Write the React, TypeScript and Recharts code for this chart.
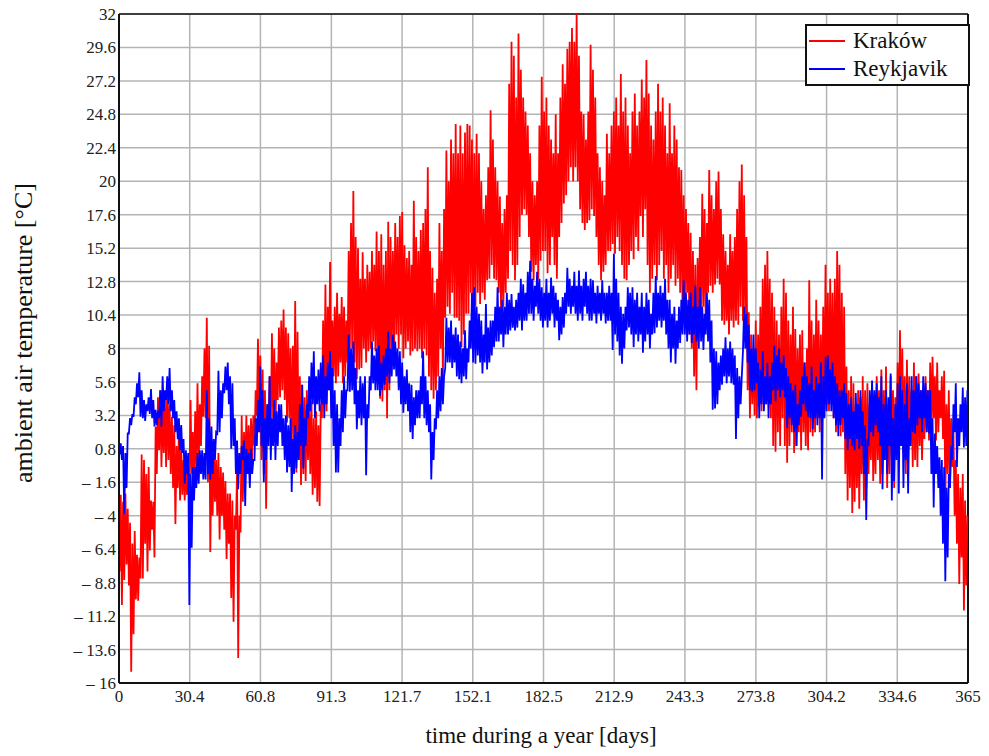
import { LineChart, Line, XAxis, YAxis, CartesianGrid, ReferenceLine } from "recharts"

const SERIF = "'Liberation Serif', 'DejaVu Serif', serif"

const X_TICKS = [0, 30.4, 60.8, 91.3, 121.7, 152.1, 182.5, 212.9, 243.3, 273.8, 304.2, 334.6, 365]
const Y_TICKS = [-16, -13.6, -11.2, -8.8, -6.4, -4, -1.6, 0.8, 3.2, 5.6, 8, 10.4, 12.8, 15.2, 17.6, 20, 22.4, 24.8, 27.2, 29.6, 32]

// daily minimum / maximum, day 0..364
const KRAKOW_LO = [
  -8, -10.4, -8.6, -7.5, -9, -15.2, -12.5, -10, -10.1, -8.5,
  -8.5, -6, -8, -6.5, -5, -7, -1, 0.7, -0.5, 0.5,
  -0.5, 0, -1, -2, -4.6, -2, -2.9, -2.5, -2.9, -2.5,
  -2, -1, -2, -0.5, -0.5, 1, 3.1, 3, -1.6, -6.6,
  -4, -3, -4, -5.7, -4, -5, -7.1, -6, -9.9, -11.6,
  -5, -14.2, -5.2, -3, -1.4, -1, -1.4, 0, 1, 3.2,
  2, 0, -1, -3.5, 1.9, 2, 3, 1.9, 4.3, 4.5,
  5, 4.3, 2.7, 3, 0.6, 1, -0.9, 0, -1.8, -1,
  -1.5, 0, -1, -2.5, -2, -3, -3.3, 3, 4, 3.5,
  5, 5.4, 6, 5.5, 6, 7, 5.5, 6, 7, 8,
  8, 7, 5.8, 6.5, 6.6, 8, 7, 7.8, 8, 8.5,
  7.8, 6, 4.4, 4.2, 5, 3, 5, 8, 7.8, 9,
  8, 9, 7.3, 8, 8.5, 7.5, 7.8, 8, 7.8, 8,
  7.3, 8, 7.5, 6, 5, 4.4, 5, 6, 8, 5.5,
  10.2, 11, 10.5, 12, 10.2, 10.2, 10, 8.1, 9, 10.5,
  10.5, 12, 10.5, 11, 12, 11.2, 12, 11.5, 12.9, 13,
  14, 13, 12.9, 12, 10.5, 11, 12, 13, 15, 14,
  12.9, 14, 16, 17.6, 18, 17.6, 16, 13.5, 12.9, 14,
  13, 14.3, 15, 15, 13.4, 14, 16, 14, 13, 16,
  17, 18.4, 19, 20, 21, 20, 21, 20, 18, 17,
  16.5, 17, 17.2, 18, 17.5, 16, 14, 12.9, 13.5, 14,
  15, 15, 15.5, 14.8, 16, 15, 14, 13, 12.9, 14,
  15, 14.4, 16, 15, 17.5, 16, 18, 14, 12, 13,
  14, 12.9, 14, 15, 13, 14, 12, 13, 14, 12.5,
  13, 12, 11, 10.8, 12, 9, 8, 6, 5, 9.6,
  10, 11, 10, 12, 12.5, 12, 12.6, 13, 12.6, 10,
  9.7, 10, 9, 10, 9.5, 10, 9.7, 11, 10, 9.7,
  5, 3, 4, 3.2, 3, 4, 3.5, 5, 4, 5,
  3, 1, 0.6, 2, 1, 3, 1, -0.2, 1, 2,
  0.5, 1, 2, 0.7, 2, 1, 0.7, 2, 1.7, 2,
  3, 2, 2.5, 3.1, 4, 3.5, 4, 3, 2, 4,
  1.7, 2, -1, -2.9, -2, -3.8, -3, -2, -3.5, -1,
  -2.9, -2, -1, 0, -1.5, -1, 0, -1.7, -1, 0,
  -2, -1, 0, -2, 0.7, 1, 2, 0.5, -1, 0,
  1, -0.5, 0, -0.5, 1, 0, 1.5, 2, 1.4, 2,
  3, 1.4, 2, 3, 1.5, -2.9, -1, -2, -0.5, -4,
  -6, -8.9, -7, -10.8, -9,
]

const KRAKOW_HI = [
  -2.5, -3, -2.4, -3.5, -4.5, -6, -5.1, -6.8, -7, 0.4,
  0, -1, -0.5, -2.9, -3, 2.4, 4.5, 5, 4.3, 4.3,
  5.5, 4, 3.1, 2.5, 1, 1.9, 1, 0, -0.5, 0,
  4.3, 2, 3.5, 5.5, 4, 6, 8, 10.2, 8.2, 1,
  0.8, 0, 0.5, -0.5, -0.9, -1.5, -2.4, -2.4, -2.9, -4,
  -0.9, -4, 3.2, 2, 3.2, 2.5, 3, 3.2, 5, 8.7,
  7.5, 6.5, 5, 4, 6, 9.1, 8, 7, 9.5, 10,
  10.8, 9.5, 9.1, 8, 8.2, 11.4, 9.2, 6, 5.4, 4.5,
  5, 4, 4.2, 3, 3.5, 2.5, 4, 10, 12.6, 11,
  14.2, 10, 11, 12, 10.5, 11.7, 11, 10, 15, 17,
  19.3, 16, 15.2, 13, 14.9, 13, 14, 13.5, 15, 14,
  16.4, 15, 16.2, 14, 15, 17.1, 16, 15, 17, 16,
  17.5, 17.8, 15.4, 14.5, 15, 14, 18.6, 16, 15, 16.5,
  17, 18, 21, 15, 13.8, 12, 13, 17, 15, 18,
  22.2, 20, 23, 22, 24.1, 22, 24, 22, 23.5, 24.1,
  24, 23, 22, 23.4, 22, 20, 18, 19, 21, 25.1,
  23, 21, 20, 18.9, 17, 18, 19, 27, 30, 29,
  26, 30.6, 28, 26, 25, 24, 22, 20, 19, 20,
  24, 27.5, 25, 26, 24, 23, 22, 24.8, 22, 26,
  28.4, 27, 29.5, 30, 31, 30, 32, 29, 25, 24.8,
  23, 25, 29.8, 28, 26, 22, 21, 20, 19, 23.4,
  22, 24, 25, 26, 24, 27.7, 25, 26, 24, 22,
  25, 26.3, 24, 25, 27.3, 26, 28.7, 26.3, 24, 23,
  25, 27, 25, 26, 24, 22, 25.6, 22, 24, 23,
  21, 20.8, 19, 18, 17, 16.3, 15, 14, 14.5, 16,
  19.1, 18, 17, 20.8, 19, 18, 20, 20.7, 18, 16.2,
  15, 14, 16.2, 15, 16, 18, 20, 21.2, 19, 16,
  10.6, 9, 8, 10, 9, 11, 13, 14, 15, 13,
  12, 11, 10, 9, 11, 13, 12, 10, 9, 11,
  9.4, 8, 9, 9.3, 7, 8, 12.9, 10, 9, 11.5,
  10, 9, 11, 14, 12, 13, 12, 13, 15, 14,
  12, 11, 6.7, 5, 6, 5.5, 4, 5, 4.5, 6,
  5, 5.5, 4, 5.5, 4, 6, 5, 6.5, 5, 6.7,
  4, 6, 5, 4.5, 7, 9.3, 8, 6, 7.2, 6,
  5, 7, 6, 6.2, 5, 4, 6, 5, 7, 7.4,
  6, 7, 5, 6, 6.4, 4, 5, 3, 2, 0,
  -1, -2, -1, -2.9, -4,
]

const REYKJAVIK_LO = [
  0.4, 0, -3.9, -2, 1.9, 2.5, 3.1, 4, 4.5, 3.1,
  3, 2.8, 3.5, 3.3, 3, 2.4, 2.5, 3, 2.4, 3.5,
  4.3, 4, 3.5, 3, 2, 1.5, 0.7, 0.5, -1.7, -1,
  -10.4, -6.3, -2.9, -2, -1.7, -1, -1.4, -1.4, -1, -1.4,
  -1, 0, 1.9, 2, 3, 4.8, 5, 4, 0.8, 1,
  -1, -2.1, -1, 0, -3.3, -1, -2, -1, 0, 1,
  2, 1, -1.6, 0, 1, 0, 1, 0, 1, 2,
  1, 0, -0.9, -0.5, -2.3, -1, -0.6, 0, 1, -0.6,
  1, 3, 3.5, 4, 3, 4, 3.5, 4, 3, 4,
  5, 3, 1, -0.9, -0.9, 1, 2, 3, 5, 4.9,
  5, 4, 2.2, 3, 2.5, 3, -1.1, 3, 5, 5.5,
  5, 5, 4.6, 5, 5.4, 6, 5.5, 6, 6.5, 6,
  5, 4, 3.4, 4, 3.5, 2, 1.5, 2.5, 3, 3,
  4, 3, 2.5, 2, -1.4, 0, 2.2, 3, 3.5, 4,
  6.6, 7, 7, 6.6, 7, 6, 5.8, 5.5, 6, 5.8,
  7, 8, 7, 6.9, 7.5, 7, 6.2, 7, 6.5, 7,
  7.5, 8.1, 8.5, 8.5, 9, 8.1, 9, 9, 9.3, 9.5,
  9.3, 9.5, 10, 9.3, 10, 10, 10.5, 10.5, 10, 11,
  10.5, 10, 9.5, 10, 9.5, 10, 10.5, 9.5, 10, 8.6,
  9, 9.5, 10.5, 11, 10.5, 11, 10.5, 10, 10.5, 10,
  11, 10.5, 10, 10, 10.5, 9.8, 10.5, 10, 10.5, 9.8,
  10, 10, 7.9, 9, 8.5, 7.5, 6.9, 8, 9.3, 9.5,
  9, 8.1, 9, 8.5, 9, 7.7, 8.5, 9, 8, 9,
  9.1, 9.5, 10, 9.5, 10, 9, 8, 7, 8, 6.9,
  8, 8.4, 9, 9, 8.5, 9, 8.4, 9, 8.5, 8,
  8.5, 7.9, 9, 8.5, 7, 3.6, 3.7, 4, 5, 5.4,
  6, 5.5, 6, 5.5, 5.4, 1.5, 3, 4, 7.8, 8,
  7, 5, 4.9, 5, 5.5, 3, 4, 3.5, 4, 3,
  4, 5, 4.2, 5, 4.5, 5, 4.5, 2.3, 3, 2.5,
  2, 1, 2.5, 3.1, 4, 3.5, 3.1, 3, 2.2, 3,
  2.5, 3, -1.4, 3, 3.5, 4, 3.5, 3, 2.5, 1.7,
  2.5, 3, 1.5, 0.7, 1.5, 1, 0.7, 1.5, 0.8, 1,
  -1, -4.3, 1, 2, 1.7, 2.5, 2, 1, -2.1, 0,
  -1, 1, -2.9, -1.5, 0, -2.4, 1, -2, 0, -2.4,
  1, 2, 1.9, 2.5, 3, 2, 3, 2, 1.9, -1,
  -3.4, -1, -2, -4, -6, -8.7, -7, -2, 0, 2,
  -0.5, 1, 2, 0.9, 1,
]

const REYKJAVIK_HI = [
  1.2, 1, 0.5, 1.9, 3, 3.3, 4.5, 5.5, 6.3, 5,
  4.3, 4, 4.5, 5.1, 4.3, 3.6, 3.5, 5, 6, 5,
  6, 6.6, 5, 4.3, 3.5, 3, 2.5, 1.5, 0.7, 0.5,
  -1, -0.5, -0.5, 0.5, 0.7, 0.7, 0.5, 5, 3, 2.4,
  1.5, 2, 6.4, 5, 5.5, 6.7, 7, 6, 5.5, 3,
  1.4, 0.5, 1, 1.4, 0.8, 0.5, 0.8, 0, 3, 4.3,
  6.7, 5, 3, 4, 6, 3, 4.3, 3.5, 4, 4,
  3, 3.2, 2.5, 3, 1.5, 2.5, 2, 4, 5.4, 3,
  4, 6, 7, 7.8, 6, 6.5, 7, 7.5, 6, 7,
  7.8, 6.6, 5, 4, 3, 5, 6, 5, 9, 8,
  8.5, 6.6, 5, 6, 5.5, 6, 4, 6, 8.5, 7.5,
  8, 8.2, 7, 7.5, 8, 9.2, 8, 9, 8.5, 8,
  7.8, 7, 6, 6.5, 5.5, 5.4, 4.5, 5, 5, 6,
  7.8, 6, 5, 4, 2, 3, 5, 6, 6.6, 6,
  10.2, 9.5, 10, 9, 9.5, 9, 8.5, 8, 9.3, 8,
  10, 12, 12.4, 11, 10.5, 10, 9, 11.2, 9.5, 10,
  10, 11, 12.4, 11, 11.5, 11, 12, 11.5, 11.9, 11,
  11.5, 12, 13, 12.6, 12, 13.5, 14.3, 13, 12.5, 13.5,
  13, 12.4, 12, 13, 12, 13.1, 12.5, 12, 11.5, 11,
  11.7, 12, 13.8, 13, 12.5, 13.5, 12.5, 13.6, 12.5, 13,
  13.5, 12.5, 13, 12.9, 12, 12.5, 12, 12.9, 12, 12,
  12.5, 12, 14.8, 13, 12, 11, 10.5, 11, 12.4, 12,
  12.4, 11.5, 12, 11, 12, 11, 12, 11.5, 10.5, 12,
  13.2, 12, 12.5, 12, 13, 11.5, 11.5, 10.5, 11, 10,
  11, 11.5, 12.9, 12, 11.5, 12, 11, 12.5, 11, 12.4,
  11, 10.5, 12, 11.5, 10, 8, 7.8, 7, 7.5, 8,
  8.8, 8, 8.5, 8, 7.5, 6.6, 6, 6, 11, 10.5,
  9.7, 8, 9, 8, 7, 6.5, 7.8, 6, 7, 6,
  7, 8.2, 7.5, 8, 7, 7.5, 6.6, 6, 5.5, 5,
  5.4, 4, 5, 6, 7, 6, 5.5, 6.7, 5, 6,
  5.5, 7, 6, 7.4, 7.5, 6.5, 7, 6, 5.5, 5,
  5, 5.5, 4.8, 4, 4.5, 3.5, 4.8, 4, 5, 3.5,
  2.5, 1.5, 5, 5.7, 5, 5.5, 4.5, 6, 4, 5,
  4.5, 6.2, 3, 4, 5.5, 6, 5, 4, 5.5, 3,
  6, 5, 6, 5.5, 5, 6, 5.5, 5, 5, 3,
  1.9, 1, 0.2, 0, -0.5, -2, -1, 1, 4, 5.5,
  3, 4, 5.2, 4.5, 5,
]

const data: { day: number; krakow: number; reykjavik: number }[] = []
for (let i = 0; i < KRAKOW_LO.length; i++) {
  data.push({ day: i + 0.25, krakow: KRAKOW_LO[i], reykjavik: REYKJAVIK_LO[i] })
  data.push({ day: i + 0.75, krakow: KRAKOW_HI[i], reykjavik: REYKJAVIK_HI[i] })
}

const fmtY = (v: number) => (v < 0 ? `\u2013 ${Math.abs(v)}` : String(v))

function LegendBox() {
  const row = (color: string, label: string) => (
    <div style={{ display: "flex", alignItems: "center", height: 28 }}>
      <div style={{ width: 36, height: 2, background: color, marginRight: 8 }} />
      <span style={{ fontFamily: SERIF, fontSize: 23, color: "#111", lineHeight: "28px" }}>{label}</span>
    </div>
  )
  return (
    <div
      style={{
        position: "absolute",
        left: 805,
        top: 24,
        width: 165,
        border: "2px solid #111",
        background: "#fff",
        padding: "1px 0 1px 2px",
        boxSizing: "border-box",
      }}
    >
      {row("#ff0000", "Kraków")}
      {row("#0000ff", "Reykjavik")}
    </div>
  )
}

export default function App() {
  return (
    <div style={{ position: "relative", width: 989, height: 748, marginTop: -8, marginLeft: -8 }}>
      <LineChart width={989} height={748} data={data} margin={{ top: 14, right: 21, left: 0, bottom: 0 }}>
        <CartesianGrid stroke="#b4b4b4" strokeWidth={1.5} />
        <XAxis
          dataKey="day"
          type="number"
          domain={[0, 365]}
          ticks={X_TICKS}
          interval={0}
          height={65}
          tickSize={0}
          tickMargin={7}
          axisLine={{ stroke: "#111", strokeWidth: 2 }}
          tick={{ fontFamily: SERIF, fontSize: 17, fill: "#222" }}
        />
        <YAxis
          type="number"
          domain={[-16, 32]}
          ticks={Y_TICKS}
          interval={0}
          width={119}
          tickSize={0}
          tickMargin={3}
          tickFormatter={fmtY}
          axisLine={{ stroke: "#111", strokeWidth: 2 }}
          tick={{ fontFamily: SERIF, fontSize: 17, fill: "#222" }}
        />
        <ReferenceLine y={32} stroke="#111" strokeWidth={1.5} />
        <ReferenceLine x={365} stroke="#111" strokeWidth={2} />
        <Line type="linear" dataKey="krakow" stroke="#ff0000" strokeWidth={1.8} dot={false} isAnimationActive={false} />
        <Line type="linear" dataKey="reykjavik" stroke="#0000ff" strokeWidth={1.8} dot={false} isAnimationActive={false} />
      </LineChart>
      <LegendBox />
      <div
        style={{
          position: "absolute",
          left: 24,
          top: 333,
          transform: "translate(-50%, -50%) rotate(-90deg)",
          whiteSpace: "nowrap",
          fontFamily: SERIF,
          fontSize: 26,
          color: "#111",
        }}
      >
        ambient air temperature [°C]
      </div>
      <div
        style={{
          position: "absolute",
          left: 541,
          top: 736,
          transform: "translate(-50%, -50%)",
          whiteSpace: "nowrap",
          fontFamily: SERIF,
          fontSize: 23,
          color: "#111",
        }}
      >
        time during a year [days]
      </div>
    </div>
  )
}
